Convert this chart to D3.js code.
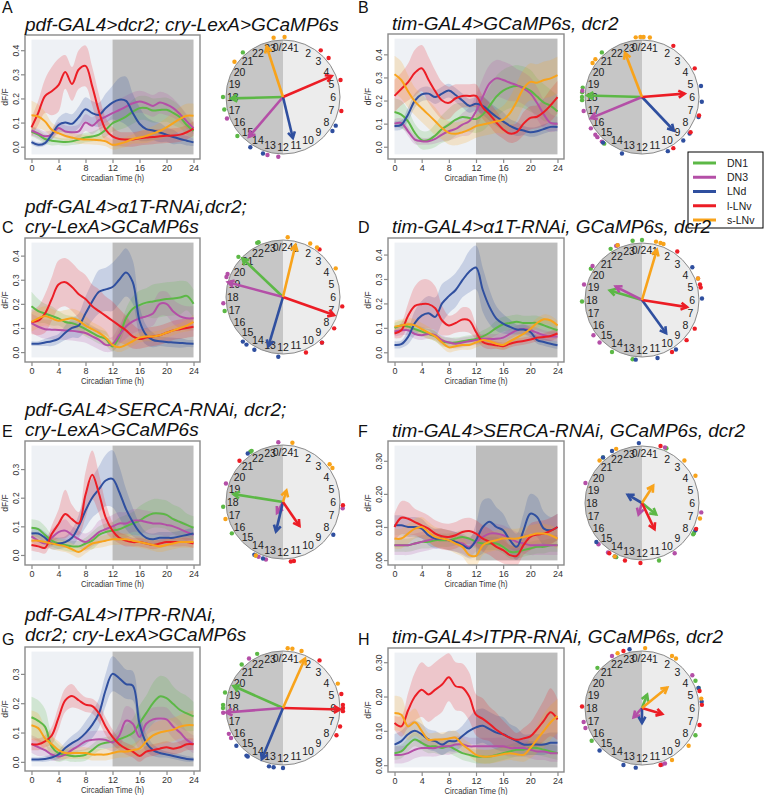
<!DOCTYPE html>
<html>
<head>
<meta charset="utf-8">
<title>Clock neuron calcium rhythms</title>
<script src="https://cdn.jsdelivr.net/npm/d3@7"></script>
<style>
  body { margin: 0; background: #fff; }
  svg { font-family: "Liberation Sans", Arial, sans-serif; }
</style>
</head>
<body>
<svg id="chart" width="764" height="795"></svg>
<script>
// ---------- data ----------
const hours = [0,1,2,3,4,5,6,7,8,9,10,11,12,13,14,15,16,17,18,19,20,21,22,23,24];
const cellTypes = ["DN1", "DN3", "LNd", "l-LNv", "s-LNv"];
const xTicks = [0, 4, 8, 12, 16, 20, 24];
const yTicks4 = [0, 0.1, 0.2, 0.3, 0.4];
const yTicks3 = [0, 0.1, 0.2, 0.3];
const clockLabels = ["0/24","1","2","3","4","5","6","7","8","9","10","11","12","13","14","15","16","17","18","19","20","21","22","23"];
const panelLetters = ["A", "B", "C", "D", "E", "F", "G", "H"];
const panelTitles = [
  ["pdf-GAL4>dcr2; cry-LexA>GCaMP6s"],
  ["tim-GAL4>GCaMP6s, dcr2"],
  ["pdf-GAL4>\u03b11T-RNAi,dcr2;", "cry-LexA>GCaMP6s"],
  ["tim-GAL4>\u03b11T-RNAi, GCaMP6s, dcr2"],
  ["pdf-GAL4>SERCA-RNAi, dcr2;", "cry-LexA>GCaMP6s"],
  ["tim-GAL4>SERCA-RNAi, GCaMP6s, dcr2"],
  ["pdf-GAL4>ITPR-RNAi,", "dcr2; cry-LexA>GCaMP6s"],
  ["tim-GAL4>ITPR-RNAi, GCaMP6s, dcr2"]
];

// mean dF/F per cell type (DN1, DN3, LNd, l-LNv, s-LNv), hourly
const meanA = [
  [0.063,0.05,0.032,0.025,0.022,0.019,0.022,0.03,0.038,0.042,0.05,0.07,0.097,0.11,0.125,0.145,0.16,0.16,0.15,0.152,0.153,0.14,0.122,0.09,0.065],
  [0.067,0.055,0.043,0.05,0.077,0.063,0.06,0.063,0.1,0.087,0.11,0.125,0.139,0.152,0.166,0.18,0.187,0.18,0.169,0.183,0.175,0.16,0.135,0.105,0.077],
  [0.019,0.008,0.015,0.05,0.09,0.1,0.095,0.122,0.155,0.139,0.132,0.16,0.183,0.195,0.19,0.14,0.095,0.073,0.067,0.059,0.05,0.04,0.032,0.025,0.018],
  [0.08,0.14,0.21,0.23,0.255,0.31,0.26,0.32,0.335,0.25,0.145,0.07,0.043,0.032,0.03,0.03,0.035,0.038,0.04,0.043,0.045,0.046,0.05,0.06,0.075],
  [0.13,0.125,0.105,0.07,0.056,0.045,0.038,0.032,0.03,0.029,0.027,0.022,0.008,0.012,0.02,0.032,0.038,0.045,0.055,0.065,0.08,0.098,0.115,0.128,0.128]
];
const semA = [
  [0.02,0.02,0.02,0.02,0.015,0.015,0.015,0.02,0.02,0.02,0.025,0.03,0.035,0.04,0.045,0.05,0.05,0.05,0.05,0.05,0.05,0.05,0.045,0.04,0.03],
  [0.02,0.02,0.02,0.02,0.025,0.025,0.025,0.03,0.035,0.035,0.04,0.04,0.04,0.045,0.045,0.045,0.045,0.045,0.045,0.045,0.045,0.04,0.035,0.03,0.025],
  [0.01,0.01,0.01,0.02,0.03,0.04,0.04,0.045,0.05,0.05,0.05,0.06,0.07,0.09,0.1,0.08,0.07,0.05,0.04,0.04,0.03,0.03,0.02,0.02,0.015],
  [0.04,0.05,0.07,0.1,0.11,0.07,0.07,0.08,0.085,0.08,0.07,0.05,0.04,0.03,0.03,0.03,0.03,0.03,0.03,0.03,0.03,0.03,0.03,0.03,0.03],
  [0.06,0.05,0.04,0.03,0.025,0.02,0.02,0.02,0.02,0.02,0.02,0.02,0.02,0.02,0.02,0.02,0.025,0.03,0.03,0.035,0.04,0.045,0.05,0.05,0.05]
];
const meanB = [
  [0.15,0.139,0.11,0.06,0.029,0.029,0.049,0.077,0.096,0.117,0.129,0.124,0.12,0.139,0.177,0.217,0.243,0.257,0.263,0.257,0.243,0.217,0.191,0.177,0.153],
  [0.1,0.103,0.067,0.031,0.024,0.024,0.034,0.053,0.067,0.077,0.096,0.11,0.153,0.217,0.274,0.296,0.289,0.277,0.267,0.253,0.231,0.189,0.139,0.103,0.1],
  [0.09,0.095,0.14,0.2,0.227,0.23,0.215,0.23,0.243,0.224,0.2,0.177,0.186,0.177,0.153,0.13,0.11,0.09,0.077,0.07,0.063,0.067,0.077,0.086,0.086],
  [0.22,0.25,0.28,0.32,0.34,0.29,0.24,0.2,0.19,0.21,0.22,0.22,0.22,0.17,0.14,0.105,0.075,0.057,0.063,0.1,0.125,0.13,0.15,0.18,0.215],
  [0.314,0.289,0.239,0.196,0.167,0.139,0.11,0.081,0.06,0.056,0.063,0.074,0.089,0.096,0.103,0.11,0.117,0.146,0.196,0.253,0.281,0.277,0.289,0.296,0.31]
];
const semB = [
  [0.06,0.06,0.05,0.04,0.04,0.04,0.05,0.06,0.07,0.07,0.06,0.06,0.06,0.07,0.08,0.09,0.09,0.09,0.09,0.09,0.09,0.08,0.08,0.07,0.07],
  [0.02,0.02,0.02,0.02,0.015,0.015,0.02,0.03,0.04,0.04,0.05,0.06,0.07,0.08,0.08,0.08,0.08,0.08,0.07,0.07,0.07,0.07,0.06,0.04,0.03],
  [0.02,0.02,0.03,0.03,0.03,0.03,0.03,0.03,0.03,0.03,0.03,0.03,0.03,0.04,0.04,0.04,0.04,0.03,0.03,0.02,0.02,0.02,0.02,0.02,0.02],
  [0.07,0.07,0.08,0.1,0.1,0.1,0.09,0.08,0.07,0.06,0.05,0.05,0.05,0.05,0.05,0.05,0.04,0.04,0.04,0.05,0.05,0.05,0.06,0.07,0.07],
  [0.08,0.08,0.07,0.06,0.06,0.06,0.06,0.05,0.05,0.05,0.05,0.05,0.05,0.05,0.05,0.05,0.06,0.07,0.08,0.08,0.08,0.08,0.08,0.08,0.08]
];
const meanC = [
  [0.19,0.17,0.16,0.15,0.14,0.125,0.12,0.11,0.095,0.08,0.065,0.055,0.023,0.065,0.14,0.18,0.195,0.205,0.21,0.215,0.22,0.222,0.226,0.233,0.2],
  [0.12,0.105,0.095,0.093,0.092,0.09,0.088,0.084,0.079,0.065,0.051,0.03,0.034,0.07,0.106,0.127,0.14,0.148,0.16,0.2,0.2,0.168,0.148,0.14,0.14],
  [0.035,0.035,0.04,0.045,0.055,0.08,0.1,0.11,0.16,0.21,0.25,0.26,0.27,0.3,0.33,0.29,0.13,0.07,0.05,0.045,0.042,0.04,0.038,0.036,0.035],
  [0.125,0.13,0.16,0.22,0.28,0.29,0.27,0.24,0.22,0.19,0.17,0.15,0.13,0.11,0.09,0.065,0.054,0.06,0.065,0.07,0.08,0.09,0.095,0.1,0.105],
  [0.125,0.14,0.15,0.14,0.13,0.135,0.14,0.13,0.11,0.095,0.08,0.06,0.03,0.02,0.03,0.045,0.06,0.065,0.065,0.07,0.08,0.09,0.1,0.11,0.125]
];
const semC = [
  [0.06,0.05,0.04,0.04,0.03,0.03,0.03,0.03,0.03,0.03,0.03,0.03,0.02,0.03,0.04,0.05,0.06,0.06,0.07,0.07,0.07,0.07,0.07,0.06,0.06],
  [0.04,0.04,0.04,0.04,0.04,0.04,0.04,0.04,0.04,0.04,0.04,0.03,0.03,0.04,0.05,0.05,0.05,0.05,0.05,0.05,0.05,0.05,0.05,0.05,0.05],
  [0.01,0.01,0.015,0.02,0.02,0.03,0.04,0.05,0.07,0.08,0.09,0.09,0.1,0.1,0.1,0.09,0.06,0.04,0.03,0.02,0.02,0.02,0.02,0.015,0.015],
  [0.05,0.06,0.08,0.09,0.1,0.1,0.1,0.1,0.1,0.09,0.09,0.08,0.08,0.07,0.06,0.05,0.04,0.04,0.04,0.04,0.04,0.04,0.04,0.04,0.04],
  [0.04,0.04,0.04,0.04,0.04,0.04,0.04,0.04,0.04,0.03,0.03,0.03,0.02,0.02,0.02,0.02,0.02,0.02,0.02,0.02,0.02,0.02,0.02,0.025,0.03]
];
const meanD = [
  [0.1,0.11,0.105,0.095,0.085,0.075,0.065,0.045,0.04,0.04,0.045,0.05,0.055,0.065,0.08,0.1,0.115,0.12,0.125,0.12,0.12,0.12,0.11,0.1,0.09],
  [0.085,0.09,0.09,0.075,0.07,0.075,0.07,0.05,0.04,0.035,0.04,0.045,0.05,0.055,0.055,0.055,0.06,0.075,0.09,0.095,0.09,0.08,0.07,0.065,0.065],
  [0.03,0.033,0.063,0.12,0.15,0.16,0.145,0.2,0.23,0.255,0.295,0.33,0.347,0.255,0.185,0.138,0.117,0.104,0.093,0.093,0.083,0.05,0.042,0.035,0.029],
  [0.077,0.09,0.15,0.19,0.197,0.197,0.18,0.13,0.11,0.12,0.134,0.13,0.083,0.042,0.033,0.029,0.025,0.035,0.042,0.046,0.052,0.06,0.063,0.067,0.077],
  [0.105,0.11,0.115,0.11,0.095,0.08,0.065,0.04,0.02,0.025,0.03,0.03,0.04,0.05,0.045,0.035,0.03,0.045,0.06,0.075,0.095,0.12,0.135,0.13,0.11]
];
const semD = [
  [0.02,0.02,0.02,0.02,0.02,0.02,0.02,0.02,0.02,0.02,0.02,0.02,0.02,0.025,0.025,0.03,0.03,0.03,0.03,0.03,0.03,0.03,0.03,0.025,0.02],
  [0.02,0.02,0.02,0.02,0.02,0.02,0.02,0.02,0.02,0.02,0.02,0.02,0.02,0.02,0.02,0.02,0.02,0.02,0.02,0.02,0.02,0.02,0.02,0.02,0.02],
  [0.015,0.015,0.03,0.05,0.06,0.07,0.08,0.08,0.07,0.07,0.07,0.085,0.09,0.09,0.07,0.05,0.04,0.03,0.02,0.02,0.02,0.015,0.015,0.015,0.015],
  [0.02,0.03,0.05,0.08,0.1,0.1,0.09,0.06,0.04,0.04,0.05,0.05,0.03,0.02,0.02,0.015,0.015,0.015,0.015,0.015,0.015,0.015,0.015,0.02,0.02],
  [0.025,0.025,0.025,0.025,0.025,0.025,0.02,0.02,0.02,0.02,0.02,0.02,0.02,0.02,0.02,0.02,0.02,0.02,0.02,0.02,0.02,0.02,0.02,0.02,0.02]
];
const meanE = [
  [0.095,0.09,0.07,0.05,0.04,0.035,0.03,0.03,0.04,0.05,0.07,0.08,0.085,0.09,0.1,0.11,0.12,0.135,0.145,0.145,0.14,0.125,0.115,0.105,0.095],
  [0.065,0.05,0.04,0.06,0.08,0.085,0.07,0.055,0.045,0.06,0.08,0.09,0.1,0.11,0.11,0.12,0.12,0.115,0.11,0.11,0.105,0.1,0.09,0.08,0.07],
  [0.075,0.075,0.06,0.04,0.04,0.045,0.06,0.1,0.155,0.2,0.23,0.26,0.266,0.22,0.16,0.115,0.08,0.06,0.055,0.06,0.06,0.06,0.065,0.07,0.075],
  [0.035,0.03,0.025,0.073,0.108,0.143,0.125,0.11,0.21,0.28,0.214,0.13,0.085,0.06,0.05,0.045,0.045,0.04,0.035,0.04,0.045,0.045,0.045,0.045,0.04],
  [0.05,0.05,0.045,0.04,0.035,0.03,0.02,0.01,0.025,0.04,0.045,0.05,0.055,0.055,0.055,0.05,0.045,0.04,0.035,0.03,0.035,0.04,0.045,0.045,0.045]
];
const semE = [
  [0.03,0.03,0.03,0.02,0.02,0.02,0.02,0.02,0.02,0.03,0.03,0.03,0.03,0.04,0.04,0.04,0.05,0.05,0.05,0.05,0.05,0.05,0.05,0.04,0.04],
  [0.02,0.02,0.02,0.03,0.03,0.04,0.03,0.03,0.03,0.03,0.04,0.04,0.04,0.04,0.04,0.04,0.04,0.04,0.04,0.04,0.04,0.03,0.03,0.03,0.02],
  [0.02,0.02,0.02,0.02,0.02,0.02,0.03,0.04,0.06,0.07,0.08,0.09,0.1,0.09,0.07,0.05,0.03,0.02,0.02,0.02,0.02,0.02,0.02,0.02,0.02],
  [0.02,0.02,0.02,0.03,0.05,0.085,0.05,0.04,0.08,0.085,0.07,0.05,0.03,0.02,0.02,0.015,0.015,0.015,0.015,0.015,0.015,0.015,0.015,0.015,0.015],
  [0.02,0.02,0.02,0.02,0.02,0.02,0.02,0.02,0.02,0.02,0.02,0.02,0.02,0.02,0.02,0.02,0.02,0.02,0.02,0.02,0.02,0.02,0.02,0.02,0.02]
];
const meanF = [
  [0.045,0.045,0.045,0.05,0.055,0.055,0.06,0.06,0.06,0.065,0.07,0.065,0.055,0.05,0.05,0.05,0.04,0.025,0.025,0.03,0.035,0.04,0.04,0.045,0.045],
  [0.045,0.045,0.045,0.05,0.055,0.06,0.065,0.065,0.06,0.055,0.05,0.04,0.055,0.07,0.08,0.08,0.075,0.065,0.055,0.05,0.045,0.045,0.045,0.045,0.045],
  [0.105,0.105,0.1,0.1,0.095,0.075,0.065,0.065,0.06,0.055,0.045,0.035,0.06,0.1,0.116,0.1,0.09,0.06,0.04,0.09,0.14,0.13,0.095,0.09,0.1],
  [0.1,0.128,0.125,0.115,0.105,0.095,0.08,0.072,0.07,0.075,0.085,0.088,0.08,0.065,0.055,0.04,0.03,0.015,0.013,0.045,0.07,0.077,0.08,0.088,0.1],
  [0.065,0.065,0.08,0.095,0.1,0.085,0.07,0.065,0.06,0.05,0.04,0.015,0.013,0.045,0.055,0.06,0.065,0.065,0.065,0.07,0.075,0.08,0.08,0.075,0.065]
];
const semF = [
  [0.02,0.02,0.02,0.02,0.02,0.02,0.02,0.02,0.02,0.02,0.02,0.02,0.02,0.02,0.02,0.02,0.02,0.02,0.02,0.02,0.02,0.02,0.02,0.02,0.02],
  [0.03,0.03,0.03,0.03,0.03,0.03,0.03,0.03,0.03,0.03,0.03,0.03,0.03,0.03,0.03,0.03,0.03,0.03,0.03,0.03,0.03,0.03,0.03,0.03,0.03],
  [0.03,0.03,0.03,0.03,0.03,0.03,0.03,0.03,0.03,0.03,0.03,0.03,0.05,0.08,0.07,0.06,0.05,0.04,0.04,0.05,0.06,0.06,0.05,0.04,0.04],
  [0.04,0.05,0.05,0.04,0.04,0.04,0.04,0.04,0.04,0.04,0.04,0.04,0.04,0.04,0.04,0.04,0.04,0.03,0.03,0.03,0.04,0.04,0.04,0.04,0.04],
  [0.03,0.03,0.03,0.03,0.03,0.03,0.03,0.03,0.03,0.03,0.03,0.03,0.03,0.03,0.03,0.03,0.03,0.03,0.03,0.03,0.03,0.03,0.03,0.03,0.03]
];
const meanG = [
  [0.152,0.14,0.12,0.052,0.03,0.025,0.02,0.02,0.024,0.04,0.058,0.065,0.069,0.077,0.086,0.098,0.132,0.166,0.2,0.223,0.217,0.197,0.177,0.165,0.155],
  [0.061,0.05,0.04,0.025,0.018,0.025,0.041,0.055,0.07,0.075,0.077,0.075,0.066,0.09,0.14,0.13,0.085,0.13,0.145,0.148,0.145,0.12,0.1,0.075,0.06],
  [0.008,0.008,0.01,0.015,0.025,0.047,0.064,0.077,0.098,0.126,0.166,0.246,0.3,0.285,0.265,0.26,0.13,0.065,0.04,0.03,0.025,0.02,0.015,0.01,0.008],
  [0.06,0.06,0.07,0.09,0.15,0.21,0.225,0.21,0.195,0.19,0.165,0.12,0.085,0.06,0.045,0.035,0.02,0.035,0.04,0.045,0.05,0.045,0.05,0.06,0.06],
  [0.125,0.115,0.08,0.06,0.04,0.03,0.03,0.03,0.03,0.025,0.025,0.025,0.03,0.035,0.035,0.04,0.045,0.07,0.09,0.1,0.105,0.11,0.12,0.125,0.125]
];
const semG = [
  [0.07,0.07,0.06,0.04,0.03,0.02,0.02,0.02,0.02,0.02,0.02,0.02,0.02,0.03,0.04,0.05,0.06,0.06,0.07,0.07,0.07,0.06,0.06,0.06,0.05],
  [0.03,0.03,0.02,0.02,0.015,0.015,0.02,0.02,0.03,0.03,0.03,0.03,0.03,0.04,0.05,0.05,0.04,0.04,0.04,0.04,0.04,0.04,0.04,0.03,0.03],
  [0.008,0.008,0.01,0.01,0.015,0.02,0.025,0.03,0.04,0.045,0.05,0.055,0.06,0.055,0.05,0.05,0.04,0.03,0.02,0.015,0.01,0.01,0.01,0.01,0.008],
  [0.02,0.02,0.02,0.03,0.04,0.04,0.04,0.03,0.025,0.025,0.03,0.03,0.025,0.02,0.02,0.02,0.02,0.02,0.02,0.02,0.02,0.02,0.02,0.02,0.02],
  [0.05,0.05,0.04,0.03,0.03,0.02,0.02,0.02,0.02,0.02,0.02,0.02,0.02,0.02,0.02,0.02,0.03,0.03,0.04,0.04,0.04,0.04,0.04,0.045,0.05]
];
const meanH = [
  [0.035,0.04,0.06,0.075,0.065,0.055,0.055,0.05,0.055,0.045,0.035,0.03,0.025,0.025,0.025,0.03,0.035,0.04,0.045,0.045,0.05,0.05,0.045,0.04,0.035],
  [0.03,0.03,0.035,0.045,0.05,0.05,0.05,0.055,0.055,0.06,0.06,0.055,0.055,0.055,0.055,0.055,0.055,0.05,0.05,0.05,0.045,0.04,0.04,0.035,0.035],
  [0.06,0.07,0.09,0.1,0.09,0.075,0.07,0.06,0.07,0.07,0.085,0.1,0.11,0.115,0.105,0.095,0.09,0.08,0.07,0.06,0.06,0.06,0.06,0.065,0.065],
  [0.123,0.113,0.16,0.2,0.22,0.206,0.22,0.235,0.256,0.23,0.226,0.2,0.147,0.135,0.12,0.103,0.09,0.08,0.074,0.078,0.084,0.105,0.13,0.154,0.133],
  [0.152,0.147,0.113,0.125,0.1,0.074,0.075,0.075,0.078,0.08,0.06,0.045,0.03,0.025,0.025,0.028,0.032,0.035,0.032,0.03,0.05,0.075,0.1,0.125,0.143]
];
const semH = [
  [0.02,0.02,0.02,0.02,0.02,0.02,0.02,0.02,0.02,0.02,0.02,0.02,0.02,0.02,0.02,0.02,0.02,0.02,0.02,0.02,0.02,0.02,0.02,0.02,0.02],
  [0.025,0.025,0.025,0.025,0.025,0.025,0.025,0.025,0.025,0.025,0.025,0.025,0.025,0.025,0.025,0.025,0.025,0.025,0.025,0.025,0.025,0.025,0.025,0.025,0.025],
  [0.03,0.03,0.03,0.03,0.03,0.03,0.03,0.03,0.03,0.03,0.03,0.04,0.05,0.05,0.05,0.05,0.05,0.04,0.04,0.03,0.03,0.03,0.03,0.03,0.03],
  [0.02,0.03,0.05,0.07,0.08,0.08,0.08,0.08,0.07,0.07,0.07,0.07,0.06,0.06,0.05,0.05,0.04,0.03,0.02,0.03,0.04,0.05,0.06,0.07,0.06],
  [0.05,0.05,0.04,0.04,0.03,0.02,0.02,0.02,0.02,0.02,0.02,0.02,0.02,0.02,0.02,0.02,0.02,0.02,0.02,0.02,0.03,0.04,0.05,0.05,0.05]
];

// phase arrows: [peak hour, vector length (0-1)] per cell type
const arrowsA = [[17.9,0.91],[14.7,0.92],[11.1,0.74],[4.45,0.93],[22.8,0.93]];
const arrowsB = [[18.1,0.96],[16.5,0.97],[9.1,0.81],[5.7,0.75],[22.6,0.83]];
const arrowsC = [[20.9,0.98],[19.0,1.0],[13.1,0.9],[7.3,0.95],[0.9,0.94]];
const arrowsD = [[19.1,0.59],[19.8,0.52],[9.6,0.72],[6.6,0.8],[1.1,0.92]];
const arrowsE = [[18.6,0.88],[13.9,0.22],[12.9,0.53],[9.7,0.51],[1.1,0.21]];
const arrowsF = [[8.6,0.32],[13.1,0.21],[20.0,0.29],[10.3,0.51],[2.2,0.36]];
const arrowsG = [[19.6,0.95],[17.7,1.0],[13.5,0.97],[6.1,1.0],[1.6,0.95]];
const arrowsH = [[1.4,0.25],[14.8,0.22],[12.0,0.26],[7.1,0.37],[3.4,0.57]];

// individual cell phases (hours) per cell type
const dotsA = [[21.2,18.0,17.2,15.3],[16.6,13.0,12.3],[7.9,8.3,14.2,13.3],[2.6,3.3,4.9,6.9],[23.4,0.1,20.4]];
const dotsB = [[21.2,18.6,18.3,18.0,17.8,14.6],[18.4,17.1,15.9,15.4,15.2,14.8],[5.3,6.3,7.3,8.5,9.1,10.3,13.3,14.7],[2.1,4.1,7.2,8.4,9.9],[23.6,23.9,0.1,0.5,20.6,20.3]];
const dotsC = [[22.3,22.4,20.8,17.1],[19.3,19.5,17.6],[9.3,12.3,14.8,14.5,13.9],[2.5,6.6,8.1,9.3,10.5],[0.3,1.8,2.3,4.1]];
const dotsD = [[0.0,23.4,21.9,20.1,17.9,14.0,12.6],[22.4,22.3,20.3,19.0,15.6,15.0,4.6],[3.8,5.9,9.7,11.0,12.4],[2.4,5.0,5.2,7.9,8.8,10.0],[0.9,1.2,1.4,4.6,22.4]];
const dotsE = [[21.8,21.9,17.7,15.9,13.8],[23.7,19.2,6.4,13.6,13.1],[21.6,8.2,13.9,13.3],[20.9,6.2,11.5,11.3],[0.6,3.4,3.7,16.9,13.8]];
const dotsF = [[1.6,21.3,8.1,8.0,13.7,10.9],[1.5,19.3,6.6,15.1,14.3,9.8],[23.8,22.0,21.3,7.8,15.3,13.8],[1.2,7.7,14.2,13.1,12.1],[22.3,21.0,3.0,4.2,7.0,13.8]];
const dotsG = [[22.3,21.1,19.0,18.2,18.0],[21.7,17.7,16.3,16.0],[15.4,14.5,14.4,12.9,12.6,12.0],[2.5,5.1,5.8,6.0,6.2,7.2,7.8],[0.3,0.6,1.2,4.4]];
const dotsH = [[20.8,4.2,4.7,7.8,15.8],[22.0,3.8,17.1,16.7,10.7,10.5],[23.2,4.7,5.6,15.0,13.2,12.4],[22.8,4.9,5.8,7.1,18.1,10.8],[22.4,0.2,2.0,2.3,5.4,8.6,10.0]];

// ---------- styling / layout ----------
const colors = ["#5cb846", "#b44fa7", "#2f4f9f", "#ec1d25", "#f8a31b"];
const lightFill = "#eef1f5";
const darkFill = "#bdbdbd";
const R = 57;

const yRanges = [[-0.032,0.444],[-0.033,0.468],[-0.022,0.454],[-0.021,0.449],[-0.019,0.382],[-0.001,0.346],[-0.0155,0.376],[-0.0065,0.328]];
const yTickSets = [yTicks4, yTicks4, yTicks4, yTicks4, yTicks3, yTicks3, yTicks3, yTicks3];
const yFormats = [".1f", ".1f", ".1f", ".1f", ".1f", ".2f", ".1f", ".2f"];

const layout = [
  {left: 25, right: 200, top: 35, bottom: 159, cx: 283, cy: 97, tx: 25, ty: [31], lx: 2, ly: 13},
  {left: 388, right: 564, top: 34, bottom: 159, cx: 642, cy: 97, tx: 392, ty: [30], lx: 358, ly: 13},
  {left: 25, right: 200, top: 238, bottom: 362, cx: 283, cy: 297, tx: 25, ty: [213, 233], lx: 2, ly: 233},
  {left: 388, right: 564, top: 238, bottom: 362, cx: 642, cy: 300, tx: 392, ty: [233], lx: 358, ly: 233},
  {left: 25, right: 200, top: 441, bottom: 565, cx: 283, cy: 502, tx: 25, ty: [416, 436], lx: 2, ly: 437},
  {left: 388, right: 564, top: 441, bottom: 565, cx: 642, cy: 503, tx: 392, ty: [437], lx: 358, ly: 437},
  {left: 25, right: 200, top: 647, bottom: 771, cx: 283, cy: 708, tx: 25, ty: [621, 641], lx: 2, ly: 645},
  {left: 388, right: 564, top: 648, bottom: 772, cx: 642, cy: 708, tx: 392, ty: [643], lx: 358, ly: 645}
];

const allMeans = [meanA, meanB, meanC, meanD, meanE, meanF, meanG, meanH];
const allSems = [semA, semB, semC, semD, semE, semF, semG, semH];
const allArrows = [arrowsA, arrowsB, arrowsC, arrowsD, arrowsE, arrowsF, arrowsG, arrowsH];
const allDots = [dotsA, dotsB, dotsC, dotsD, dotsE, dotsF, dotsG, dotsH];

// ---------- drawing ----------
const svg = d3.select("#chart");
const defs = svg.append("defs");

function drawTraces(i) {
  const L = layout[i];
  const lim = yRanges[i];
  const pad = (lim[1] - lim[0]) * 0.04;
  const x = d3.scaleLinear().domain([-0.96, 24.96]).range([L.left, L.right]);
  const y = d3.scaleLinear().domain([lim[0] - pad, lim[1] + pad]).range([L.bottom, L.top]);

  defs.append("clipPath").attr("id", "clip" + i)
    .append("rect")
      .attr("x", L.left).attr("y", L.top)
      .attr("width", L.right - L.left).attr("height", L.bottom - L.top);

  const g = svg.append("g");
  const plot = g.append("g").attr("clip-path", "url(#clip" + i + ")");

  // day / night shading
  plot.append("rect")
    .attr("x", x(0)).attr("y", y(lim[1]))
    .attr("width", x(12) - x(0)).attr("height", y(lim[0]) - y(lim[1]))
    .attr("fill", lightFill);
  plot.append("rect")
    .attr("x", x(12)).attr("y", y(lim[1]))
    .attr("width", x(24) - x(12)).attr("height", y(lim[0]) - y(lim[1]))
    .attr("fill", darkFill);

  const means = allMeans[i];
  const sems = allSems[i];

  const band = d3.area()
    .x(d => x(d.t))
    .y0(d => y(d.m - d.s))
    .y1(d => y(d.m + d.s))
    .curve(d3.curveCatmullRom);
  const line = d3.line()
    .x(d => x(d.t))
    .y(d => y(d.m))
    .curve(d3.curveCatmullRom);

  const rows = means.map((m, k) => hours.map((t, j) => ({t: t, m: m[j], s: sems[k][j]})));

  rows.forEach((r, k) => {
    plot.append("path").attr("d", band(r))
      .attr("fill", colors[k]).attr("fill-opacity", 0.2).attr("stroke", "none");
  });
  rows.forEach((r, k) => {
    plot.append("path").attr("d", line(r))
      .attr("fill", "none").attr("stroke", colors[k]).attr("stroke-width", 2);
  });

  // frame
  g.append("rect")
    .attr("x", L.left).attr("y", L.top)
    .attr("width", L.right - L.left).attr("height", L.bottom - L.top)
    .attr("fill", "none").attr("stroke", "#8a8a8a").attr("stroke-width", 1.4);

  // axes
  const xAxis = g.append("g")
    .attr("transform", "translate(0," + L.bottom + ")")
    .call(d3.axisBottom(x).tickValues(xTicks).tickSize(4).tickPadding(2));
  xAxis.select(".domain").remove();
  xAxis.selectAll("line").attr("stroke", "#8a8a8a").attr("stroke-width", 1.2);
  xAxis.selectAll("text").attr("font-size", 9).attr("fill", "#333").attr("font-family", null);

  const yAxis = g.append("g")
    .attr("transform", "translate(" + L.left + ",0)")
    .call(d3.axisLeft(y).tickValues(yTickSets[i]).tickFormat(d3.format(yFormats[i])).tickSize(4));
  yAxis.select(".domain").remove();
  yAxis.selectAll("line").attr("stroke", "#8a8a8a").attr("stroke-width", 1.2);
  yAxis.selectAll("text")
    .attr("transform", "rotate(-90)")
    .attr("x", 0).attr("y", -6).attr("dy", 0)
    .attr("text-anchor", "middle")
    .attr("font-size", 8.5).attr("fill", "#333").attr("font-family", null);

  g.append("text")
    .attr("transform", "translate(" + (L.left - 17) + "," + ((L.top + L.bottom) / 2) + ") rotate(-90)")
    .attr("text-anchor", "middle")
    .attr("font-size", 8.5).attr("fill", "#333")
    .text("dF/F");

  g.append("text")
    .attr("x", (L.left + L.right) / 2).attr("y", L.bottom + 22)
    .attr("text-anchor", "middle")
    .attr("font-size", 9).attr("fill", "#333")
    .attr("textLength", 63).attr("lengthAdjust", "spacingAndGlyphs")
    .text("Circadian Time (h)");
}

function drawClock(i) {
  const L = layout[i];
  const g = svg.append("g").attr("transform", "translate(" + L.cx + "," + L.cy + ")");
  const ang = d3.scaleLinear().domain([0, 24]).range([0, 2 * Math.PI]);
  const rad = d3.scaleLinear().domain([0, 1]).range([0, R]);
  const half = d3.arc().innerRadius(0).outerRadius(R);

  g.append("path").attr("d", half({startAngle: 0, endAngle: Math.PI})).attr("fill", "#ececec");
  g.append("path").attr("d", half({startAngle: Math.PI, endAngle: 2 * Math.PI})).attr("fill", "#c6c6c6");
  g.append("circle").attr("r", R).attr("fill", "none").attr("stroke", "#8a8a8a").attr("stroke-width", 1);

  g.selectAll(".hr").data(clockLabels).join("text")
    .attr("x", (d, h) => 0.88 * R * Math.sin(ang(h)))
    .attr("y", (d, h) => -0.88 * R * Math.cos(ang(h)))
    .attr("text-anchor", "middle")
    .attr("dy", "0.36em")
    .attr("font-size", 10.5).attr("fill", "#222")
    .text(d => d);

  // individual cells
  allDots[i].forEach((list, k) => {
    g.selectAll(null).data(list).join("circle")
      .attr("cx", h => (R + 3) * Math.sin(ang(h)))
      .attr("cy", h => -(R + 3) * Math.cos(ang(h)))
      .attr("r", 2.2)
      .attr("fill", colors[k]);
  });

  // mean phase arrows
  allArrows[i].forEach((a, k) => {
    const th = ang(a[0]);
    const len = rad(a[1]);
    const tx = len * Math.sin(th), ty = -len * Math.cos(th);
    const dir = Math.atan2(ty, tx);
    const head = 7, spread = Math.PI / 6;
    g.append("line")
      .attr("x1", 0).attr("y1", 0).attr("x2", tx).attr("y2", ty)
      .attr("stroke", colors[k]).attr("stroke-width", 2.6);
    g.append("path")
      .attr("d", "M" + (tx - head * Math.cos(dir - spread)) + "," + (ty - head * Math.sin(dir - spread)) +
                 "L" + tx + "," + ty +
                 "L" + (tx - head * Math.cos(dir + spread)) + "," + (ty - head * Math.sin(dir + spread)))
      .attr("fill", "none").attr("stroke", colors[k]).attr("stroke-width", 2.6)
      .attr("stroke-linejoin", "miter");
  });
}

function drawLegend() {
  const g = svg.append("g");
  g.append("rect")
    .attr("x", 688).attr("y", 152).attr("width", 75).attr("height", 76)
    .attr("fill", "#fff").attr("stroke", "#000").attr("stroke-width", 1);
  const rowY = d3.scaleLinear().domain([0, 4]).range([163, 220]);
  cellTypes.forEach((name, k) => {
    g.append("line")
      .attr("x1", 693).attr("x2", 716).attr("y1", rowY(k)).attr("y2", rowY(k))
      .attr("stroke", colors[k]).attr("stroke-width", 3);
    g.append("text")
      .attr("x", 727).attr("y", rowY(k)).attr("dy", "0.36em")
      .attr("font-size", 10.5).attr("fill", "#222")
      .text(name);
  });
}

function drawTitles(i) {
  const L = layout[i];
  panelTitles[i].forEach((t, n) => {
    svg.append("text")
      .attr("x", L.tx).attr("y", L.ty[n])
      .attr("font-size", 19).attr("font-style", "italic").attr("fill", "#111")
      .text(t);
  });
  svg.append("text")
    .attr("x", L.lx).attr("y", L.ly)
    .attr("font-size", 16).attr("fill", "#111")
    .text(panelLetters[i]);
}

allMeans.forEach((m, i) => {
  drawTraces(i);
  drawClock(i);
});
drawLegend();
allMeans.forEach((m, i) => drawTitles(i));
</script>
</body>
</html>
